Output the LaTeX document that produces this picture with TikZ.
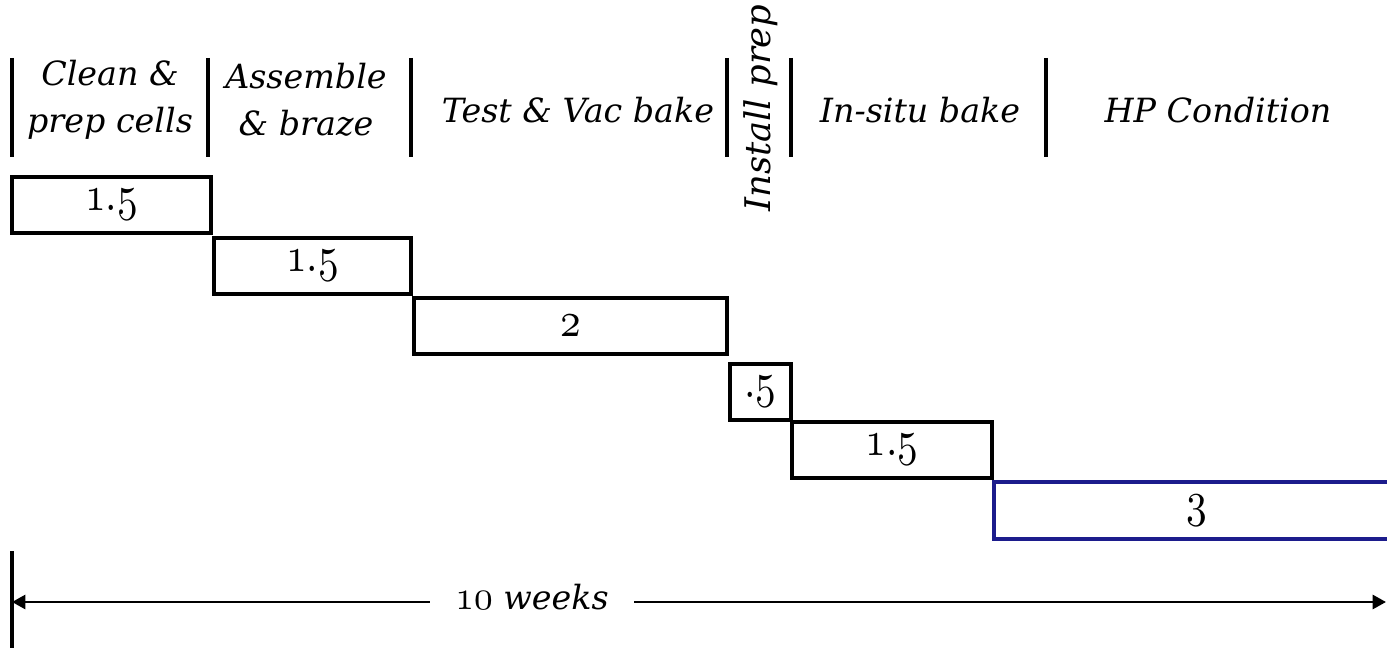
\documentclass[tikz,border=0pt]{standalone}
\usepackage{fontspec}
\usepackage{graphicx}
\setmainfont{DejaVu Serif}
\usetikzlibrary{arrows.meta}
% old-style figures from the Computer Modern math italic font, scaled from 10pt
\newcommand\osnum[3][3.1]{\scalebox{#1}[#2]{\fontsize{10}{12}\usefont{OML}{cmm}{m}{it}#3}}
\newcommand\osdot{\char58\relax}
\newcommand\dur[1]{\osnum{3.7}{#1}}
\definecolor{navyline}{RGB}{28,28,140}
\begin{document}
\begin{tikzpicture}[x=0.75pt,y=-0.75pt,
  hdr/.style={font=\fontsize{25}{35}\selectfont\itshape, align=center, inner sep=0},
  sepline/.style={line width=2.3pt},
  task/.style={draw, line width=2.3pt, inner sep=0, minimum height=42pt},
  span/.style={line width=2pt, {Triangle[length=10pt,width=10.5pt]}-{Triangle[length=10pt,width=10.5pt]}}]
\clip (0,0) rectangle (1387,648);
\fill[white] (0,0) rectangle (1387,648);

% phase separators
\foreach \x in {12,208,411,727,791,1046}
  \draw[sepline] (\x,58) -- (\x,157);

% phase titles
\node[hdr] (h1) at (110,100) {Clean \&\\prep cells};
\node[hdr] (h2) at (306,100) {Assemble\\\& braze};
\node[hdr] (h3) at (578,110) {Test \& Vac bake};
\node[hdr, rotate=90, font=\fontsize{26.5}{35}\selectfont\itshape] (h4) at (761,108) {Install prep};
\node[hdr] (h5) at (920,110) {In-situ bake};
\node[hdr] (h6) at (1218,110) {HP Condition};

% task bars, durations in weeks
\node[task, minimum width=149.25pt] (t1) at (111.5,205) {\dur{1\osdot5}};
\node[task, minimum width=147.75pt] (t2) at (312.5,266) {\dur{1\osdot5}};
\node[task, minimum width=234.75pt] (t3) at (570.5,326) {\dur{2}};
\node[task, minimum width=45.75pt]  (t4) at (760.5,392) {\dur{\osdot5}};
\node[task, minimum width=150pt]    (t5) at (892,450) {\dur{1\osdot5}};
\node[task, draw=navyline, minimum width=304.5pt, minimum height=42.75pt] (t6) at (1197,510.5) {\dur{3}};

% overall duration
\coordinate (base top) at (12,551);
\coordinate (base bottom) at (12,648);
\draw[sepline] (base top) -- (base bottom);
\coordinate (spanL) at (12,602);
\coordinate (spanR) at (1386,602);
\draw[span] (spanL) -- (spanR);
\node[hdr, fill=white, inner xsep=19pt, inner ysep=4pt] (total) at (532,597)
  {\osnum[2.8]{3.1}{10} weeks};
\end{tikzpicture}
\end{document}
